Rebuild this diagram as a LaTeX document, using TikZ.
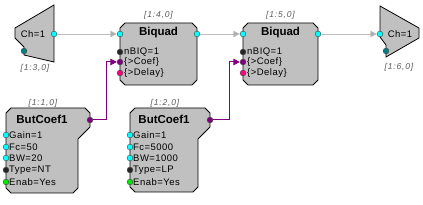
\documentclass[tikz,border=0pt]{standalone}
\usepackage{fontspec}
\setmainfont{Liberation Sans}
\newfontfamily\rowfont[LetterSpace=5]{Liberation Sans}
\newfontfamily\lblfont[LetterSpace=10]{Liberation Sans}
\usetikzlibrary{arrows.meta}
\definecolor{boxgray}{RGB}{192,192,192}
\definecolor{wiregray}{RGB}{190,190,190}
\definecolor{mypurple}{RGB}{128,0,128}
\definecolor{mypink}{RGB}{255,0,128}
\definecolor{myteal}{RGB}{0,128,128}
\definecolor{mycyan}{RGB}{0,255,255}
\definecolor{mygreen}{RGB}{0,230,0}
\definecolor{lblgray}{RGB}{90,90,90}
\begin{document}
\begin{tikzpicture}[x=1pt,y=-1pt,
  blk/.style={draw=black, fill=boxgray, line width=0.8pt},
  port/.style={circle, draw=black!75, line width=0.4pt, inner sep=0pt, minimum size=5.8pt},
  cport/.style={port, fill=mycyan},
  tport/.style={port, fill=myteal},
  kport/.style={port, fill=black!85},
  pport/.style={port, fill=mypurple},
  mport/.style={port, fill=mypink},
  gport/.style={port, fill=mygreen},
  row/.style={anchor=west, font=\rowfont\fontsize{9.5}{10}\selectfont, inner sep=0pt},
  ttl/.style={font=\fontsize{11.5}{12}\selectfont\bfseries, inner sep=0pt},
  lbl/.style={font=\lblfont\fontsize{8.5}{9}\selectfont\itshape, text=lblgray, inner sep=0pt},
  wire/.style={draw=wiregray, line width=0.8pt, -{Triangle[length=6.5pt,width=6.5pt,fill=wiregray!90!black]}},
  pwire/.style={draw=mypurple, line width=1pt, -{Triangle[length=6.5pt,width=6.5pt]}}]
\useasboundingbox (0,0) rectangle (423,205);

% input trapezoid
\draw[blk] (54,5)--(54,62)--(24,55)--(24,47)--(15,38)--(15,28)--cycle;
\node[row, anchor=center] (tin) at (33,34) {Ch=1};
\node[lbl] (tinl) at (35,68) {[1:3,0]};
\node[cport] (inout) at (54,34) {};
\node[tport] (inteal) at (24,51) {};

% output trapezoid
\draw[blk] (380,6)--(419,28)--(419,38)--(386,57)--(386,45)--(380,37)--cycle;
\node[row, anchor=center] (tout) at (400,34) {Ch=1};
\node[lbl] (toutl) at (399,67) {[1:6,0]};
\node[cport] (outin) at (380,34) {};
\node[tport] (outteal) at (386,51) {};

% Biquad 1
\draw[blk] (125,23)--(192,23)--(197,28)--(197,80)--(192,85)--(125,85)--(120,80)--(120,28)--cycle;
\node[ttl] (b1t) at (158.5,33) {Biquad};
\node[lbl] (b1l) at (158.5,15) {[1:4,0]};
\node[row] (b1r1) at (124,52) {nBIQ=1};
\node[row] (b1r2) at (124,62) {\{>Coef\}};
\node[row] (b1r3) at (124,73) {\{>Delay\}};
\node[cport] (b1in) at (120,34) {};
\node[cport] (b1out) at (197,34) {};
\node[kport] (b1n) at (120,52) {};
\node[pport] (b1coef) at (120,62) {};
\node[mport] (b1del) at (120,73) {};

% Biquad 2
\draw[blk] (248,23)--(313,23)--(318,28)--(318,80)--(313,85)--(248,85)--(243,80)--(243,28)--cycle;
\node[ttl] (b2t) at (280.5,33) {Biquad};
\node[lbl] (b2l) at (280.5,15) {[1:5,0]};
\node[row] (b2r1) at (247,52) {nBIQ=1};
\node[row] (b2r2) at (247,62) {\{>Coef\}};
\node[row] (b2r3) at (247,73) {\{>Delay\}};
\node[cport] (b2in) at (243,34) {};
\node[cport] (b2out) at (318,34) {};
\node[kport] (b2n) at (243,52) {};
\node[pport] (b2coef) at (243,62) {};
\node[mport] (b2del) at (243,73) {};

% ButCoef1 (left)
\draw[blk] (11,108)--(85,108)--(90,113)--(90,127)--(78,139)--(78,188)--(73,193)--(11,193)--(6,188)--(6,113)--cycle;
\node[ttl] (c1t) at (42,119) {ButCoef1};
\node[lbl] (c1l) at (43,103) {[1:1,0]};
\node[row] (c1r1) at (9,135) {Gain=1};
\node[row] (c1r2) at (9,147) {Fc=50};
\node[row] (c1r3) at (9,158) {BW=20};
\node[row] (c1r4) at (9,170) {Type=NT};
\node[row] (c1r5) at (9,182) {Enab=Yes};
\node[cport] (c1p1) at (6,135) {};
\node[cport] (c1p2) at (6,147) {};
\node[cport] (c1p3) at (6,158) {};
\node[kport] (c1p4) at (6,170) {};
\node[gport] (c1p5) at (6,182) {};
\node[pport] (c1out) at (90,120) {};

% ButCoef1 (right)
\draw[blk] (135,108)--(205,108)--(210,113)--(210,127)--(198,139)--(198,187)--(193,192)--(135,192)--(130,187)--(130,113)--cycle;
\node[ttl] (c2t) at (164,119) {ButCoef1};
\node[lbl] (c2l) at (165,103) {[1:2,0]};
\node[row] (c2r1) at (133,135) {Gain=1};
\node[row] (c2r2) at (133,147) {Fc=5000};
\node[row] (c2r3) at (133,158) {BW=1000};
\node[row] (c2r4) at (133,170) {Type=LP};
\node[row] (c2r5) at (133,182) {Enab=Yes};
\node[cport] (c2p1) at (130,135) {};
\node[cport] (c2p2) at (130,147) {};
\node[cport] (c2p3) at (130,158) {};
\node[kport] (c2p4) at (130,170) {};
\node[gport] (c2p5) at (130,182) {};
\node[pport] (c2out) at (210,120) {};

% connectors
\draw[wire] (inout) -- (b1in);
\draw[wire] (b1out) -- (b2in);
\draw[wire] (b2out) -- (outin);
\coordinate (j1) at (106,120);
\coordinate (j2) at (229,120);
\draw[pwire] (c1out) -- (j1) |- (b1coef);
\draw[pwire] (c2out) -- (j2) |- (b2coef);
\end{tikzpicture}
\end{document}
